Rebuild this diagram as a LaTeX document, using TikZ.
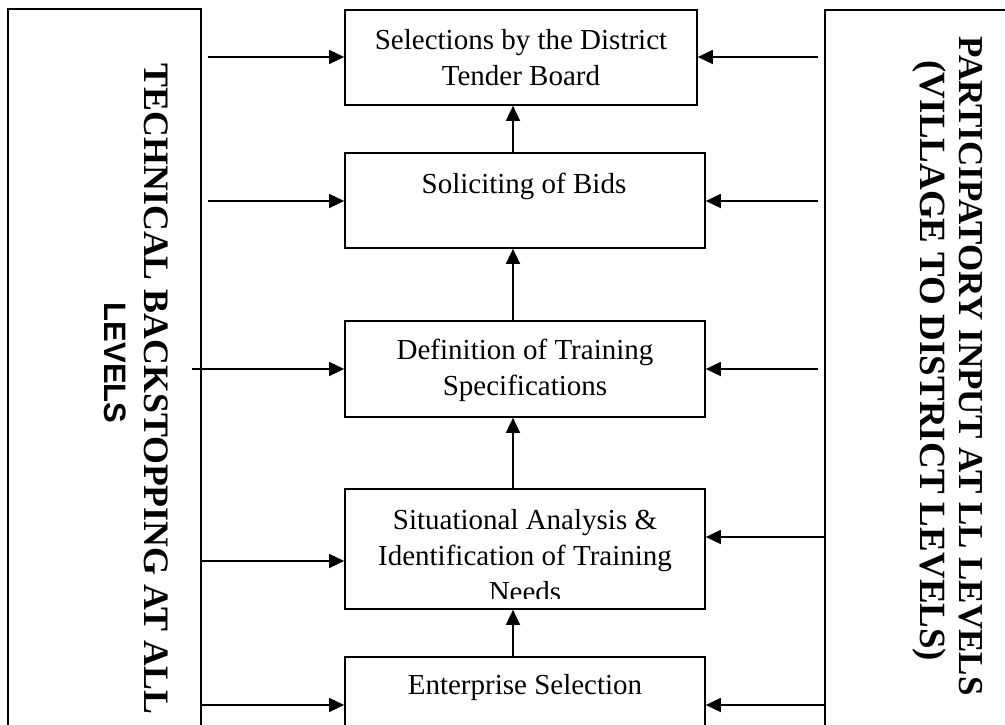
\documentclass[tikz,border=0pt]{standalone}
\usepackage{fontspec}
\setmainfont{Liberation Serif}
\setsansfont{Liberation Sans}
\usetikzlibrary{arrows.meta}
\begin{document}
\begin{tikzpicture}[x=1pt,y=-1pt,
  box/.style={draw,line width=1.7pt,inner sep=0pt},
  lbl/.style={font=\fontsize{29}{36}\selectfont,align=center,inner sep=0pt},
  arr/.style={line width=1.7pt,-{Triangle[length=15pt,width=14pt]}},
  vt/.style={rotate=-90,inner sep=0pt,font=\bfseries\fontsize{35.8}{40}\selectfont},
  vts/.style={rotate=-90,inner sep=0pt,font=\sffamily\bfseries\fontsize{31}{36}\selectfont}]
\useasboundingbox (0,0) rectangle (1005,725);
\fill[white] (0,0) rectangle (1005,725);
\clip (0,0) rectangle (1005,725);
% side boxes
\node[box,minimum width=193pt,minimum height=751pt] (lb) at (104.5,384.5) {};
\node[box,minimum width=190pt,minimum height=750pt] (rb) at (920,385) {};
\node[vt] (lt1) at (156,389) {TECHNICAL BACKSTOPPING AT ALL};
\node[vts] (lt2) at (115,363) {LEVELS};
\node[vt,font=\bfseries\fontsize{35}{40}\selectfont] (rt1) at (971,366) {PARTICIPATORY INPUT AT LL LEVELS};
\node[vt,font=\bfseries\fontsize{37}{40}\selectfont] (rt2) at (929,361) {(VILLAGE TO DISTRICT LEVELS)};
% central boxes
\node[box,minimum width=352pt,minimum height=95pt] (b1) at (521,57.5) {};
\node[box,minimum width=360pt,minimum height=95pt] (b2) at (525,200.5) {};
\node[box,minimum width=360pt,minimum height=96pt] (b3) at (525,369) {};
\node[box,minimum width=360pt,minimum height=120pt] (b4) at (525,549) {};
\node[box,minimum width=360pt,minimum height=95pt] (b5) at (525,704.5) {};
\node[lbl] (t1) at (521,58) {Selections by the District\\Tender Board};
\node[lbl] (t2) at (524,186) {Soliciting of Bids};
\node[lbl] (t3) at (525,370) {Definition of Training\\Specifications};
\begin{scope}
\clip (345,489) rectangle (705,598);
\node[lbl] (t4) at (525,556) {Situational Analysis \&\\Identification of Training\\Needs};
\end{scope}
\node[lbl] (t5) at (525,688) {Enterprise Selection};
% vertical arrows
\coordinate (ax) at (513,0);
\draw[arr] (b2.north -| ax) -- (b1.south -| ax);
\draw[arr] (b3.north -| ax) -- (b2.south -| ax);
\draw[arr] (b4.north -| ax) -- (b3.south -| ax);
\draw[arr] (b5.north -| ax) -- (b4.south -| ax);
% left arrows
\coordinate (l1) at (208,57);
\coordinate (l2) at (208,201);
\coordinate (l3) at (192,369);
\coordinate (l4) at (201,561);
\coordinate (l5) at (201,705);
\draw[arr] (l1) -- (l1 -| b1.west);
\draw[arr] (l2) -- (l2 -| b2.west);
\draw[arr] (l3) -- (l3 -| b3.west);
\draw[arr] (l4) -- (l4 -| b4.west);
\draw[arr] (l5) -- (l5 -| b5.west);
% right arrows
\coordinate (r1) at (818,57);
\coordinate (r2) at (818,201);
\coordinate (r3) at (818,369);
\coordinate (r4) at (825,537);
\coordinate (r5) at (825,705);
\draw[arr] (r1) -- (r1 -| b1.east);
\draw[arr] (r2) -- (r2 -| b2.east);
\draw[arr] (r3) -- (r3 -| b3.east);
\draw[arr] (r4) -- (r4 -| b4.east);
\draw[arr] (r5) -- (r5 -| b5.east);
\end{tikzpicture}
\end{document}
